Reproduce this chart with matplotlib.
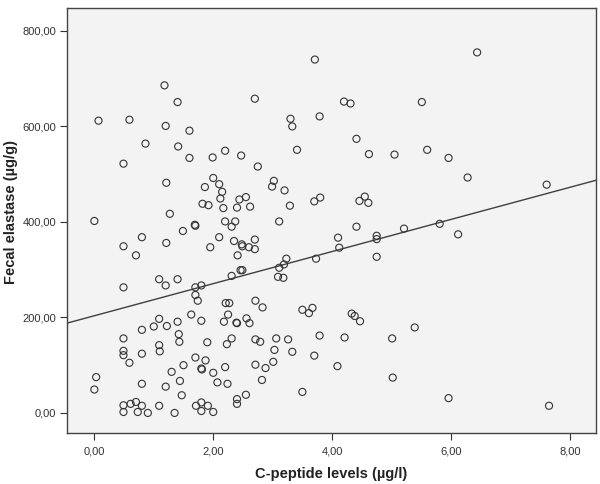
import numpy as np
import matplotlib
matplotlib.use("Agg")
import matplotlib.pyplot as plt
from matplotlib.ticker import FuncFormatter

plt.rcParams['font.family'] = ['Liberation Sans', 'DejaVu Sans']

c_peptide = [
    1.18, 1.40, 2.70, 0.07, 0.59, 1.20, 1.60, 0.86, 1.41, 1.60, 1.99, 2.20, 2.47,
    3.71, 4.20, 4.31, 5.51, 3.30, 3.33, 3.79, 4.41, 3.41, 4.62, 5.05, 5.60,
    6.44, 5.96,
    0.49, 2.75, 1.21, 2.00, 2.10, 1.86, 2.15, 2.12, 2.55, 2.44, 1.82, 1.92, 2.17,
    2.40, 2.62, 1.27, 0.00, 1.69, 1.70, 2.20, 2.37, 2.31, 1.49, 0.80, 2.10, 0.49,
    1.21, 1.95, 2.35, 2.48, 2.49, 2.60, 2.70, 2.70, 0.70, 2.41, 1.09, 1.20, 1.40,
    0.49, 2.31, 2.46, 2.49, 1.70, 1.80,
    3.02, 2.99, 3.20, 3.29, 3.70, 3.80, 4.55, 4.46, 4.61, 3.11, 4.41, 4.10, 4.75,
    4.75, 5.21, 4.12, 3.23, 3.19, 3.11, 3.73, 4.75, 3.09, 3.18,
    6.28, 7.61, 5.81, 6.12,
    1.70, 1.74, 2.21, 2.27, 2.71, 1.63, 1.80, 2.25, 2.18, 2.39, 2.40, 2.56, 2.61,
    1.09, 1.00, 1.22, 1.40, 0.80, 1.42, 1.43, 0.49, 1.09, 1.10, 0.49, 0.49, 0.80,
    0.59, 1.90, 2.23, 2.31, 2.71, 1.70, 1.87, 1.50, 1.30, 1.80, 1.81, 2.00, 2.20,
    2.71, 0.03, 0.00, 0.80, 1.20, 1.44, 2.07, 2.24, 1.47, 2.40, 2.40, 2.55, 0.49,
    0.61, 0.70, 0.80, 0.49, 0.73, 0.90, 1.09, 1.35, 1.71, 1.80, 1.91, 1.80, 2.00,
    2.83, 3.50, 3.61, 3.67, 4.33, 4.38, 4.47, 5.39, 2.79, 3.06, 3.26, 3.79, 4.21,
    5.01, 3.03, 3.33, 3.70, 2.88, 3.01, 4.09, 2.82, 5.02, 3.50, 5.96, 7.65,
]

fecal_elastase = [
    686, 651, 658, 612, 614, 601, 591, 564, 558, 534, 535, 549, 539,
    740, 652, 648, 651, 616, 600, 621, 574, 551, 542, 541, 551,
    755, 534,
    522, 516, 482, 492, 479, 473, 463, 449, 452, 447, 438, 435, 429,
    430, 432, 417, 402, 394, 392, 401, 401, 390, 381, 368, 368, 349,
    356, 347, 360, 353, 349, 347, 363, 343, 330, 330, 280, 267, 280,
    263, 287, 299, 299, 263, 267,
    486, 474, 466, 434, 443, 451, 453, 444, 440, 401, 390, 367, 371,
    364, 386, 346, 323, 311, 304, 323, 327, 285, 283,
    493, 478, 396, 374,
    247, 235, 230, 230, 235, 206, 193, 206, 191, 189, 188, 198, 188,
    197, 181, 182, 191, 174, 165, 149, 156, 142, 129, 130, 121, 124,
    105, 148, 144, 156, 154, 116, 110, 100, 86, 93, 91, 84, 96,
    101, 75, 49, 61, 55, 67, 64, 61, 37, 29, 19, 38, 16,
    19, 23, 15, 2, 2, 0, 15, 0, 15, 22, 15, 4, 2,
    221, 216, 209, 220, 208, 203, 192, 179, 149, 156, 154, 162, 158,
    156, 132, 128, 120, 94, 107, 98, 69, 74, 44, 31, 15,
]

x_ticks = [0, 2, 4, 6, 8]
y_ticks = [0, 200, 400, 600, 800]

x = np.array(c_peptide)
y = np.array(fecal_elastase)

fig = plt.figure(figsize=(6.0, 4.84), dpi=100)
ax = fig.add_axes([0.1117, 0.1054, 0.8816, 0.8781])
ax.set_facecolor('#F3F3F3')

ax.scatter(x, y, s=26, facecolors='none', edgecolors='#333333', linewidths=0.8, zorder=3)

xlim = (-0.46, 8.44)
slope, intercept = np.polyfit(x, y, 1)
xl = np.array(xlim)
ax.plot(xl, intercept + slope * xl, color='#404040', lw=1.0, zorder=2)

ax.set_xlim(*xlim)
ax.set_ylim(-42, 848)
ax.set_xticks(x_ticks)
ax.set_yticks(y_ticks)
ax.xaxis.set_major_formatter(FuncFormatter(lambda v, p: f"{v:.2f}".replace('.', ',')))
ax.yaxis.set_major_formatter(FuncFormatter(lambda v, p: f"{v:.2f}".replace('.', ',')))
ax.tick_params(axis='both', direction='out', length=5, width=0.8, color='#333333',
               labelsize=8, labelcolor='#333333')
ax.tick_params(axis='x', pad=5)
ax.tick_params(axis='y', pad=3)
for sp in ax.spines.values():
    sp.set_color('#444444')
    sp.set_linewidth(1.0)

ax.set_xlabel('C-peptide levels (µg/l)', fontsize=10.5, fontweight='bold', color='#222222', labelpad=7)
ax.set_ylabel('Fecal elastase (µg/g)', fontsize=10.5, fontweight='bold', color='#222222')
ax.yaxis.set_label_coords(-0.092, 0.52)

fig.savefig('out.png', dpi=100, facecolor='white')
